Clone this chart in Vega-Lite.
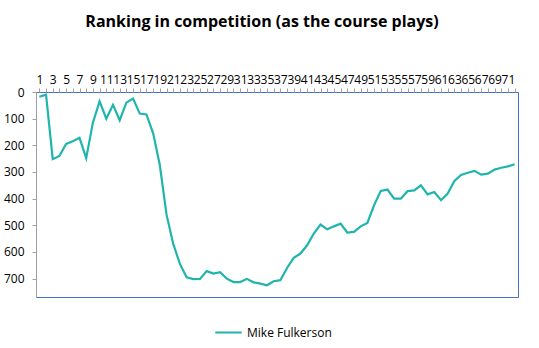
{
  "$schema": "https://vega.github.io/schema/vega-lite/v6.json",
  "width": 482,
  "height": 205,
  "autosize": {"type": "none"},
  "padding": {"left": 36, "top": 92, "right": 21, "bottom": 51},
  "background": "white",
  "title": {
    "text": "Ranking in competition (as the course plays)",
    "font": "Open Sans",
    "fontSize": 16,
    "fontWeight": "bold",
    "color": "#000000",
    "anchor": "middle",
    "dx": -15,
    "offset": 43
  },
  "data": {
    "values": [
      {"hole": 1, "rank": 18, "series": "Mike Fulkerson"},
      {"hole": 2, "rank": 10, "series": "Mike Fulkerson"},
      {"hole": 3, "rank": 252, "series": "Mike Fulkerson"},
      {"hole": 4, "rank": 240, "series": "Mike Fulkerson"},
      {"hole": 5, "rank": 195, "series": "Mike Fulkerson"},
      {"hole": 6, "rank": 185, "series": "Mike Fulkerson"},
      {"hole": 7, "rank": 172, "series": "Mike Fulkerson"},
      {"hole": 8, "rank": 248, "series": "Mike Fulkerson"},
      {"hole": 9, "rank": 115, "series": "Mike Fulkerson"},
      {"hole": 10, "rank": 35, "series": "Mike Fulkerson"},
      {"hole": 11, "rank": 100, "series": "Mike Fulkerson"},
      {"hole": 12, "rank": 48, "series": "Mike Fulkerson"},
      {"hole": 13, "rank": 106, "series": "Mike Fulkerson"},
      {"hole": 14, "rank": 40, "series": "Mike Fulkerson"},
      {"hole": 15, "rank": 25, "series": "Mike Fulkerson"},
      {"hole": 16, "rank": 81, "series": "Mike Fulkerson"},
      {"hole": 17, "rank": 84, "series": "Mike Fulkerson"},
      {"hole": 18, "rank": 155, "series": "Mike Fulkerson"},
      {"hole": 19, "rank": 275, "series": "Mike Fulkerson"},
      {"hole": 20, "rank": 460, "series": "Mike Fulkerson"},
      {"hole": 21, "rank": 570, "series": "Mike Fulkerson"},
      {"hole": 22, "rank": 645, "series": "Mike Fulkerson"},
      {"hole": 23, "rank": 695, "series": "Mike Fulkerson"},
      {"hole": 24, "rank": 702, "series": "Mike Fulkerson"},
      {"hole": 25, "rank": 701, "series": "Mike Fulkerson"},
      {"hole": 26, "rank": 672, "series": "Mike Fulkerson"},
      {"hole": 27, "rank": 681, "series": "Mike Fulkerson"},
      {"hole": 28, "rank": 676, "series": "Mike Fulkerson"},
      {"hole": 29, "rank": 700, "series": "Mike Fulkerson"},
      {"hole": 30, "rank": 713, "series": "Mike Fulkerson"},
      {"hole": 31, "rank": 713, "series": "Mike Fulkerson"},
      {"hole": 32, "rank": 701, "series": "Mike Fulkerson"},
      {"hole": 33, "rank": 714, "series": "Mike Fulkerson"},
      {"hole": 34, "rank": 719, "series": "Mike Fulkerson"},
      {"hole": 35, "rank": 725, "series": "Mike Fulkerson"},
      {"hole": 36, "rank": 710, "series": "Mike Fulkerson"},
      {"hole": 37, "rank": 706, "series": "Mike Fulkerson"},
      {"hole": 38, "rank": 660, "series": "Mike Fulkerson"},
      {"hole": 39, "rank": 622, "series": "Mike Fulkerson"},
      {"hole": 40, "rank": 606, "series": "Mike Fulkerson"},
      {"hole": 41, "rank": 575, "series": "Mike Fulkerson"},
      {"hole": 42, "rank": 531, "series": "Mike Fulkerson"},
      {"hole": 43, "rank": 497, "series": "Mike Fulkerson"},
      {"hole": 44, "rank": 515, "series": "Mike Fulkerson"},
      {"hole": 45, "rank": 504, "series": "Mike Fulkerson"},
      {"hole": 46, "rank": 494, "series": "Mike Fulkerson"},
      {"hole": 47, "rank": 527, "series": "Mike Fulkerson"},
      {"hole": 48, "rank": 525, "series": "Mike Fulkerson"},
      {"hole": 49, "rank": 504, "series": "Mike Fulkerson"},
      {"hole": 50, "rank": 491, "series": "Mike Fulkerson"},
      {"hole": 51, "rank": 425, "series": "Mike Fulkerson"},
      {"hole": 52, "rank": 371, "series": "Mike Fulkerson"},
      {"hole": 53, "rank": 366, "series": "Mike Fulkerson"},
      {"hole": 54, "rank": 400, "series": "Mike Fulkerson"},
      {"hole": 55, "rank": 400, "series": "Mike Fulkerson"},
      {"hole": 56, "rank": 372, "series": "Mike Fulkerson"},
      {"hole": 57, "rank": 369, "series": "Mike Fulkerson"},
      {"hole": 58, "rank": 350, "series": "Mike Fulkerson"},
      {"hole": 59, "rank": 384, "series": "Mike Fulkerson"},
      {"hole": 60, "rank": 375, "series": "Mike Fulkerson"},
      {"hole": 61, "rank": 406, "series": "Mike Fulkerson"},
      {"hole": 62, "rank": 381, "series": "Mike Fulkerson"},
      {"hole": 63, "rank": 334, "series": "Mike Fulkerson"},
      {"hole": 64, "rank": 311, "series": "Mike Fulkerson"},
      {"hole": 65, "rank": 303, "series": "Mike Fulkerson"},
      {"hole": 66, "rank": 296, "series": "Mike Fulkerson"},
      {"hole": 67, "rank": 310, "series": "Mike Fulkerson"},
      {"hole": 68, "rank": 306, "series": "Mike Fulkerson"},
      {"hole": 69, "rank": 291, "series": "Mike Fulkerson"},
      {"hole": 70, "rank": 284, "series": "Mike Fulkerson"},
      {"hole": 71, "rank": 279, "series": "Mike Fulkerson"},
      {"hole": 72, "rank": 271, "series": "Mike Fulkerson"}
    ]
  },
  "mark": {"type": "line", "strokeWidth": 2.2, "interpolate": "linear"},
  "encoding": {
    "x": {
      "field": "hole",
      "type": "ordinal",
      "sort": "ascending",
      "scale": {"type": "point", "padding": 0.5},
      "axis": {
        "orient": "top",
        "title": null,
        "labelAngle": 0,
        "labelOverlap": false,
        "labelExpr": "datum.value % 2 == 1 ? datum.label : ''",
        "labelFont": "Open Sans",
        "labelFontSize": 12,
        "labelColor": "#000000",
        "labelPadding": 2,
        "tickSize": 4,
        "tickColor": "#A0A0A0",
        "domain": false,
        "grid": false
      }
    },
    "y": {
      "field": "rank",
      "type": "quantitative",
      "scale": {"domain": [0, 769], "reverse": true, "nice": false, "zero": true},
      "axis": {
        "title": null,
        "values": [0, 100, 200, 300, 400, 500, 600, 700],
        "labelFont": "Open Sans",
        "labelFontSize": 12,
        "labelColor": "#000000",
        "labelPadding": 8,
        "tickSize": 4,
        "tickColor": "#A0A0A0",
        "domainColor": "#A0A0A0",
        "grid": false
      }
    },
    "color": {
      "field": "series",
      "type": "nominal",
      "scale": {"range": ["#1FB5AD"]},
      "legend": {
        "orient": "none",
        "legendX": 178,
        "legendY": 226,
        "title": null,
        "direction": "horizontal",
        "symbolType": "stroke",
        "symbolSize": 700,
        "symbolStrokeWidth": 2,
        "labelFont": "Open Sans",
        "labelFontSize": 12,
        "labelColor": "#000000"
      }
    }
  },
  "config": {
    "view": {"stroke": "#4472C4", "strokeWidth": 1}
  }
}
